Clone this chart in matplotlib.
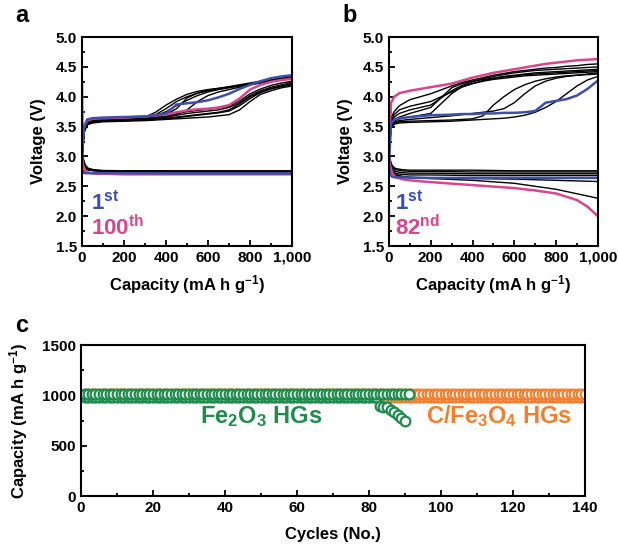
import matplotlib
matplotlib.use("Agg")
import matplotlib.pyplot as plt
from matplotlib.ticker import MultipleLocator, FuncFormatter

plt.rcParams.update({
    "font.family": ["Liberation Sans", "DejaVu Sans"],
    "font.weight": "bold",
    "axes.labelweight": "bold",
    "mathtext.fontset": "custom",
    "mathtext.rm": "Liberation Sans:bold",
    "mathtext.bf": "Liberation Sans:bold",
    "mathtext.it": "Liberation Sans:bold",
    "axes.linewidth": 1.5,
})

BLUE = "#3d4fa6"
PINK = "#d9468f"
GREEN = "#1e8c4c"
ORANGE = "#f37e2e"

# shared capacity grids (mA h g-1)
CAP = [0, 10, 25, 50, 100, 200, 300, 350, 400, 450, 500, 550, 600, 650, 700,
       750, 800, 850, 900, 950, 1000]
DCAP = [0, 5, 15, 30, 60, 100, 200, 400, 600, 800, 1000]

# ---- panel a: C/Fe3O4 ----
a_blue_chg = [3.00, 3.50, 3.62, 3.64, 3.65, 3.66, 3.67, 3.69, 3.72, 3.87, 3.89,
              3.91, 3.94, 3.99, 4.05, 4.13, 4.20, 4.26, 4.31, 4.34, 4.36]
a_pink_cap = [0, 3, 10, 25, 50, 100, 200, 300, 400, 450, 500, 550, 600, 650,
              700, 750, 800, 850, 900, 950, 1000]
a_pink_chg = [4.25, 3.30, 3.50, 3.60, 3.63, 3.64, 3.65, 3.67, 3.70, 3.74, 3.77,
              3.79, 3.80, 3.82, 3.86, 3.97, 4.12, 4.20, 4.25, 4.28, 4.30]
a_black_chg = [
    [3.0, 3.45, 3.58, 3.61, 3.62, 3.63, 3.65, 3.70, 3.80, 3.92, 4.00, 4.06, 4.10, 4.13, 4.16, 4.19, 4.22, 4.25, 4.28, 4.31, 4.33],
    [3.0, 3.45, 3.57, 3.60, 3.61, 3.62, 3.64, 3.66, 3.70, 3.80, 3.98, 4.06, 4.11, 4.14, 4.17, 4.20, 4.23, 4.26, 4.29, 4.31, 4.33],
    [3.0, 3.42, 3.55, 3.58, 3.59, 3.60, 3.61, 3.62, 3.64, 3.66, 3.68, 3.70, 3.72, 3.74, 3.78, 3.88, 4.00, 4.08, 4.14, 4.18, 4.22],
    [3.0, 3.40, 3.53, 3.56, 3.58, 3.59, 3.60, 3.61, 3.62, 3.63, 3.64, 3.65, 3.66, 3.68, 3.70, 3.78, 3.92, 4.04, 4.10, 4.15, 4.18],
    [3.0, 3.43, 3.56, 3.59, 3.60, 3.61, 3.63, 3.65, 3.68, 3.72, 3.75, 3.77, 3.79, 3.81, 3.84, 3.93, 4.05, 4.13, 4.19, 4.23, 4.26],
    [3.0, 3.44, 3.57, 3.60, 3.61, 3.62, 3.63, 3.64, 3.66, 3.69, 3.72, 3.74, 3.76, 3.78, 3.82, 3.90, 4.02, 4.10, 4.16, 4.20, 4.24],
    [3.0, 3.41, 3.54, 3.57, 3.59, 3.60, 3.61, 3.62, 3.63, 3.65, 3.67, 3.69, 3.71, 3.73, 3.76, 3.85, 3.97, 4.07, 4.13, 4.17, 4.20],
    [3.0, 3.46, 3.58, 3.61, 3.62, 3.63, 3.65, 3.68, 3.75, 3.85, 3.94, 4.02, 4.08, 4.12, 4.15, 4.18, 4.21, 4.24, 4.27, 4.30, 4.32],
    [3.0, 3.47, 3.59, 3.62, 3.63, 3.64, 3.66, 3.74, 3.86, 3.96, 4.04, 4.09, 4.12, 4.14, 4.16, 4.18, 4.20, 4.23, 4.26, 4.29, 4.31],
    [3.0, 3.45, 3.57, 3.60, 3.61, 3.62, 3.63, 3.64, 3.66, 3.70, 3.78, 3.92, 4.02, 4.08, 4.12, 4.16, 4.20, 4.24, 4.27, 4.30, 4.32],
]
a_black_dis = [
    [3.10, 2.95, 2.84, 2.79, 2.77, 2.76, 2.755, 2.755, 2.755, 2.755, 2.755],
    [3.00, 2.90, 2.82, 2.78, 2.765, 2.76, 2.75, 2.75, 2.75, 2.75, 2.75],
    [3.05, 2.92, 2.83, 2.78, 2.76, 2.755, 2.75, 2.745, 2.745, 2.745, 2.745],
    [2.95, 2.86, 2.80, 2.77, 2.76, 2.75, 2.745, 2.74, 2.74, 2.74, 2.74],
    [3.15, 2.98, 2.86, 2.80, 2.775, 2.765, 2.76, 2.76, 2.76, 2.76, 2.76],
]
a_blue_dis = [2.74, 2.73, 2.72, 2.72, 2.72, 2.72, 2.72, 2.715, 2.715, 2.715, 2.715]
a_pink_dis = [3.00, 2.85, 2.76, 2.73, 2.71, 2.71, 2.70, 2.70, 2.70, 2.70, 2.70]

# ---- panel b: Fe2O3 ----
b_pink_chg = [3.30, 3.90, 4.00, 4.06, 4.10, 4.16, 4.22, 4.27, 4.32, 4.36, 4.40,
              4.43, 4.46, 4.49, 4.52, 4.55, 4.57, 4.59, 4.61, 4.62, 4.63]
b_blue_chg = [2.90, 3.55, 3.62, 3.64, 3.66, 3.69, 3.70, 3.71, 3.71, 3.72, 3.72,
              3.73, 3.73, 3.74, 3.76, 3.90, 3.93, 3.96, 4.02, 4.13, 4.27]
b_black_chg = [
    [3.0, 3.55, 3.62, 3.66, 3.72, 3.82, 4.15, 4.22, 4.26, 4.29, 4.31, 4.33, 4.35, 4.37, 4.38, 4.39, 4.40, 4.41, 4.42, 4.43, 4.44],
    [3.0, 3.65, 3.75, 3.85, 3.95, 4.05, 4.18, 4.24, 4.28, 4.32, 4.36, 4.39, 4.42, 4.44, 4.46, 4.48, 4.49, 4.51, 4.52, 4.54, 4.55],
    [3.0, 3.55, 3.60, 3.63, 3.66, 3.72, 4.05, 4.17, 4.22, 4.26, 4.29, 4.31, 4.33, 4.35, 4.36, 4.37, 4.38, 4.39, 4.40, 4.41, 4.42],
    [3.0, 3.50, 3.56, 3.58, 3.59, 3.60, 3.61, 3.62, 3.63, 3.68, 3.86, 4.00, 4.12, 4.20, 4.26, 4.30, 4.33, 4.35, 4.36, 4.37, 4.38],
    [3.0, 3.48, 3.54, 3.56, 3.57, 3.58, 3.59, 3.60, 3.61, 3.62, 3.63, 3.64, 3.66, 3.69, 3.74, 3.82, 3.92, 4.05, 4.18, 4.28, 4.34],
    [3.0, 3.60, 3.70, 3.78, 3.84, 3.92, 4.08, 4.16, 4.22, 4.27, 4.31, 4.34, 4.36, 4.38, 4.40, 4.41, 4.42, 4.43, 4.44, 4.45, 4.46],
    [3.0, 3.52, 3.58, 3.60, 3.62, 3.65, 3.68, 3.70, 3.72, 3.74, 3.76, 3.80, 3.90, 4.05, 4.18, 4.26, 4.31, 4.34, 4.36, 4.38, 4.40],
    [3.0, 3.58, 3.66, 3.72, 3.78, 3.86, 4.10, 4.19, 4.25, 4.30, 4.34, 4.37, 4.40, 4.42, 4.44, 4.45, 4.46, 4.47, 4.48, 4.49, 4.50],
]
b_black_dis = [
    [3.10, 2.95, 2.85, 2.80, 2.78, 2.77, 2.77, 2.77, 2.76, 2.76, 2.76],
    [3.00, 2.90, 2.82, 2.78, 2.76, 2.75, 2.75, 2.74, 2.74, 2.74, 2.74],
    [3.05, 2.92, 2.80, 2.75, 2.73, 2.72, 2.72, 2.71, 2.71, 2.71, 2.71],
    [2.95, 2.85, 2.76, 2.72, 2.70, 2.69, 2.69, 2.68, 2.68, 2.68, 2.68],
    [2.90, 2.80, 2.72, 2.68, 2.66, 2.65, 2.64, 2.63, 2.62, 2.60, 2.58],
    [2.95, 2.82, 2.74, 2.70, 2.67, 2.65, 2.63, 2.60, 2.55, 2.45, 2.30],
]
b_blue_dis = [2.85, 2.70, 2.66, 2.65, 2.65, 2.645, 2.64, 2.64, 2.64, 2.64, 2.64]
b_pink_dis_cap = [0, 5, 15, 30, 60, 100, 200, 400, 600, 700, 800, 900, 950, 1000]
b_pink_dis = [3.00, 2.85, 2.72, 2.66, 2.62, 2.60, 2.57, 2.52, 2.47, 2.43, 2.38,
              2.27, 2.16, 2.00]

# ---- panel c: cycling at 1000 mA h g-1 limit ----
cfe_cycles = list(range(1, 141))
cfe_charge = [1015] * 140
cfe_discharge = [985] * 140
fe_cycles = list(range(1, 92))
fe_charge = [1015] * 91
fe_dis_cycles = list(range(1, 91))
fe_discharge = [985] * 82 + [895, 885, 880, 850, 835, 805, 775, 745]

fig = plt.figure(figsize=(6.18, 5.45), dpi=100)
axa = fig.add_axes([0.1327, 0.5486, 0.340, 0.3835])
axb = fig.add_axes([0.6294, 0.5486, 0.338, 0.3835])
axc = fig.add_axes([0.131, 0.0899, 0.8155, 0.277])

lw = 1.0
for v in a_black_chg:
    axa.plot(CAP, v, color="black", lw=lw)
for v in a_black_dis:
    axa.plot(DCAP, v, color="black", lw=lw)
axa.plot(DCAP, a_pink_dis, color=PINK, lw=1.8)
axa.plot(a_pink_cap, a_pink_chg, color=PINK, lw=1.8)
axa.plot(DCAP, a_blue_dis, color=BLUE, lw=1.8)
axa.plot(CAP, a_blue_chg, color=BLUE, lw=1.8)

for v in b_black_chg:
    axb.plot(CAP, v, color="black", lw=lw)
for v in b_black_dis:
    axb.plot(DCAP, v, color="black", lw=lw)
axb.plot(CAP, b_pink_chg, color=PINK, lw=1.8)
axb.plot(b_pink_dis_cap, b_pink_dis, color=PINK, lw=1.8)
axb.plot(CAP, b_blue_chg, color=BLUE, lw=1.8)
axb.plot(DCAP, b_blue_dis, color=BLUE, lw=1.8)

comma = FuncFormatter(lambda x, p: f"{x:,.0f}")
for ax in (axa, axb):
    ax.set_xlim(0, 1000)
    ax.set_ylim(1.5, 5.0)
    ax.xaxis.set_major_locator(MultipleLocator(200))
    ax.xaxis.set_minor_locator(MultipleLocator(100))
    ax.yaxis.set_major_locator(MultipleLocator(0.5))
    ax.yaxis.set_minor_locator(MultipleLocator(0.25))
    ax.xaxis.set_major_formatter(comma)
    ax.yaxis.set_major_formatter(FuncFormatter(lambda y, p: f"{y:.1f}"))
    ax.set_xlabel("Capacity (mA h g$^{-1}$)", fontsize=12, labelpad=6)
    ax.set_ylabel("Voltage (V)", fontsize=12, labelpad=7)

axa.text(45, 2.22, "1$^{st}$", color=BLUE, fontsize=16, va="center")
axa.text(45, 1.80, "100$^{th}$", color=PINK, fontsize=16, va="center")
axb.text(30, 2.22, "1$^{st}$", color=BLUE, fontsize=16, va="center")
axb.text(30, 1.80, "82$^{nd}$", color=PINK, fontsize=16, va="center")

ms = 7
mw = 1.6
axc.plot(cfe_cycles, cfe_discharge, "o", ms=ms, mfc="white", mec=ORANGE, mew=mw)
axc.plot(cfe_cycles, cfe_charge, "o", ms=ms, mfc="white", mec=ORANGE, mew=mw)
axc.plot(fe_dis_cycles, fe_discharge, "o", ms=ms, mfc="white", mec=GREEN, mew=mw)
axc.plot(fe_cycles, fe_charge, "o", ms=ms, mfc="white", mec=GREEN, mew=mw)
axc.set_xlim(0, 140)
axc.set_ylim(0, 1500)
axc.xaxis.set_major_locator(MultipleLocator(20))
axc.xaxis.set_minor_locator(MultipleLocator(10))
axc.yaxis.set_major_locator(MultipleLocator(500))
axc.yaxis.set_minor_locator(MultipleLocator(250))
axc.set_xlabel("Cycles (No.)", fontsize=12, labelpad=9)
axc.set_ylabel("Capacity (mA h g$^{-1}$)", fontsize=12, labelpad=9)
axc.text(50, 790, "Fe$_2$O$_3$ HGs", color=GREEN, fontsize=17,
         ha="center", va="center")
axc.text(116, 790, "C/Fe$_3$O$_4$ HGs", color=ORANGE, fontsize=17,
         ha="center", va="center")

for ax in (axa, axb, axc):
    ax.tick_params(which="both", direction="in", top=False, right=False,
                   labelsize=11, width=1.3)
    ax.tick_params(which="major", length=4)
    ax.tick_params(which="minor", length=2.5)

fig.text(15 / 618, 1 - 16 / 545, "a", fontsize=17, fontweight="bold", va="center")
fig.text(342 / 618, 1 - 16 / 545, "b", fontsize=17, fontweight="bold", va="center")
fig.text(15 / 618, 1 - 326 / 545, "c", fontsize=17, fontweight="bold", va="center")

# tick labels only exist after a draw, then make them bold
fig.canvas.draw()
for ax in (axa, axb, axc):
    for lbl in ax.get_xticklabels() + ax.get_yticklabels():
        lbl.set_fontweight("bold")

fig.savefig("out.png", dpi=100)
